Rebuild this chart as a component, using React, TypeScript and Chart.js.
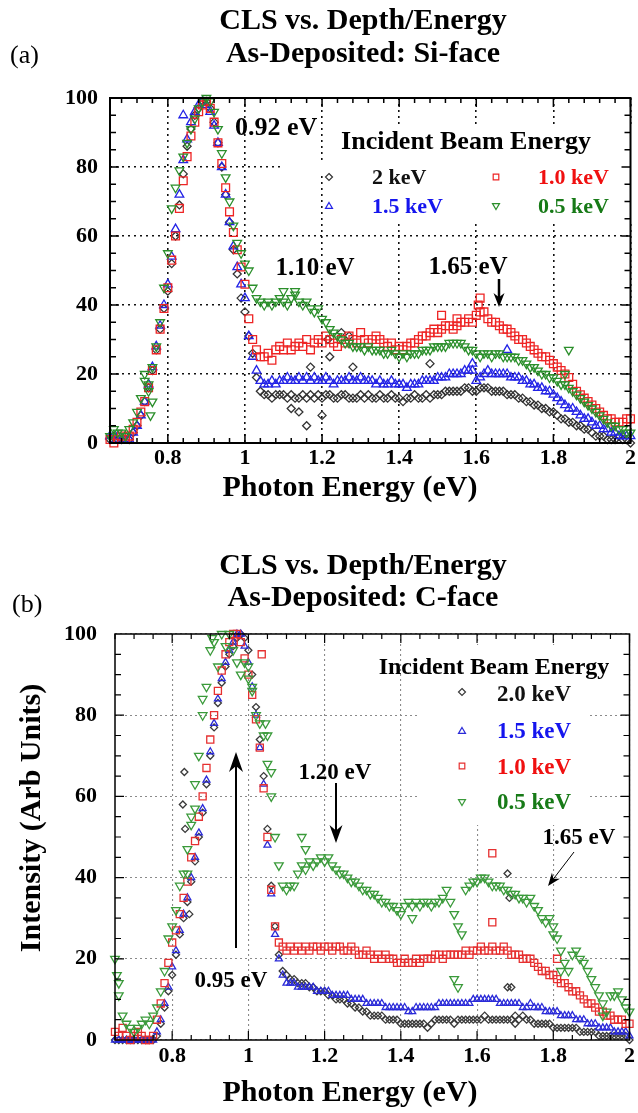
import React, { useEffect, useRef } from 'react';
import { Chart, registerables } from 'chart.js';
Chart.register(...registerables);

// ---------------- DATA ----------------
const ENERGY = [
  0.65, 0.66, 0.67, 0.68, 0.69, 0.70, 0.71, 0.72, 0.73, 0.74,
  0.75, 0.76, 0.77, 0.78, 0.79, 0.80, 0.81, 0.82, 0.83, 0.84,
  0.85, 0.86, 0.87, 0.88, 0.89, 0.90, 0.91, 0.92, 0.93, 0.94,
  0.95, 0.96, 0.97, 0.98, 0.99, 1.00, 1.01, 1.02, 1.03, 1.04,
  1.05, 1.06, 1.07, 1.08, 1.09, 1.10, 1.11, 1.12, 1.13, 1.14,
  1.15, 1.16, 1.17, 1.18, 1.19, 1.20, 1.21, 1.22, 1.23, 1.24,
  1.25, 1.26, 1.27, 1.28, 1.29, 1.30, 1.31, 1.32, 1.33, 1.34,
  1.35, 1.36, 1.37, 1.38, 1.39, 1.40, 1.41, 1.42, 1.43, 1.44,
  1.45, 1.46, 1.47, 1.48, 1.49, 1.50, 1.51, 1.52, 1.53, 1.54,
  1.55, 1.56, 1.57, 1.58, 1.59, 1.60, 1.61, 1.62, 1.63, 1.64,
  1.65, 1.66, 1.67, 1.68, 1.69, 1.70, 1.71, 1.72, 1.73, 1.74,
  1.75, 1.76, 1.77, 1.78, 1.79, 1.80, 1.81, 1.82, 1.83, 1.84,
  1.85, 1.86, 1.87, 1.88, 1.89, 1.90, 1.91, 1.92, 1.93, 1.94,
  1.95, 1.96, 1.97, 1.98, 1.99, 2.00,
];

// Panel (a) Si-face
const A_2KEV = [
  1, 2, 1, 1, 2, 1, 3, 5, 8, 12,
  16, 21, 27, 33, 39, 44, 52, 60, 69, 78,
  86, 91, 95, 97, 99, 99, 97, 93, 87, 80,
  72, 64, 56, 49, 42, 38, 31, 26, 19, 15,
  14, 14, 13, 14, 14, 14, 13, 14, 13, 13,
  14, 13, 14, 13, 14, 13, 14, 14, 13, 13,
  14, 14, 13, 13, 13, 14, 13, 14, 13, 13,
  14, 13, 13, 14, 13, 13, 12, 13, 13, 14,
  13, 13, 14, 13, 14, 14, 14, 15, 15, 15,
  15, 15, 16, 16, 15, 15, 16, 16, 16, 15,
  15, 15, 15, 14, 14, 14, 13, 13, 12, 12,
  11, 11, 10, 10, 9, 9, 8, 7, 7, 6,
  6, 5, 5, 4, 4, 3, 2, 2, 2, 1,
  1, 1, 2, 1, 1, 0,
];
const A_2KEV_EXTRA_X = [1.12, 1.14, 1.16, 1.17, 1.20, 1.215, 1.22, 1.25, 1.27, 1.28, 1.48];
const A_2KEV_EXTRA_Y = [10, 9, 5, 22, 8, 30, 25, 32, 31, 22, 23];

const A_15KEV = [
  2, 1, 2, 1, 1, 1, 3, 5, 8, 12,
  17, 22, 28, 34, 40, 46, 54, 62, 72, 82,
  88, 93, 96, 98, 99, 98, 96, 92, 87, 80,
  72, 64, 57, 51, 46, 42, 31, 25, 21, 18,
  17, 17, 18, 17, 18, 18, 19, 18, 18, 19,
  18, 19, 18, 19, 18, 18, 19, 18, 17, 18,
  18, 18, 19, 18, 18, 19, 18, 18, 18, 17,
  18, 17, 17, 18, 17, 17, 17, 16, 17, 17,
  17, 18, 18, 18, 18, 19, 19, 19, 20, 20,
  20, 20, 21, 21, 21, 18, 19, 20, 21, 20,
  20, 20, 20, 20, 19, 19, 19, 18, 18, 17,
  17, 16, 16, 15, 15, 14, 13, 12, 11, 10,
  10, 9, 8, 7, 7, 6, 5, 5, 4, 4,
  3, 3, 2, 2, 2, 2,
];
const A_15KEV_EXTRA_X = [0.84, 1.59, 1.68];
const A_15KEV_EXTRA_Y = [95, 23, 27];

const A_10KEV = [
  1, 0, 1, 2, 1, 2, 4, 6, 9, 12,
  16, 21, 27, 33, 39, 45, 53, 60, 68, 76,
  83, 89, 93, 96, 98, 99, 97, 93, 87, 81,
  74, 67, 61, 56, 51, 46, 36, 30, 27, 25,
  25, 26, 24, 27, 28, 27, 29, 27, 28, 29,
  28, 30, 27, 29, 30, 29, 31, 30, 29, 28,
  30, 29, 31, 30, 29, 32, 30, 29, 30, 31,
  30, 29, 28, 29, 27, 28, 27, 28, 29, 29,
  30, 31, 31, 32, 33, 32, 33, 34, 34, 33,
  34, 35, 35, 36, 35, 37, 38, 38, 36, 35,
  35, 34, 33, 33, 32, 31, 30, 30, 29, 28,
  27, 26, 25, 25, 24, 23, 22, 21, 20, 19,
  17, 15, 14, 13, 12, 11, 10, 9, 8, 7,
  7, 6, 6, 6, 7, 7,
];
const A_10KEV_EXTRA_X = [1.51, 1.55, 1.605, 1.61];
const A_10KEV_EXTRA_Y = [37, 36, 40, 42];

const A_05KEV = [
  2, 4, 3, 3, 2, 4, 6, 9, 13, 18,
  17, 22, 28, 35, 45, 55, 68, 74, 79, 83,
  87, 91, 94, 97, 99, 100, 99, 96, 91, 84,
  77, 70, 63, 58, 55, 52, 50, 45, 42, 41,
  40, 41, 40, 41, 42, 41, 40, 42, 43, 41,
  40, 41, 39, 38, 39, 36, 35, 33, 32, 31,
  30, 29, 29, 28, 28, 28, 27, 28, 27, 27,
  27, 26, 26, 27, 26, 25, 26, 25, 26, 26,
  26, 27, 27, 27, 28, 28, 28, 28, 29, 29,
  29, 29, 28, 27, 27, 26, 25, 26, 26, 25,
  26, 26, 25, 25, 25, 25, 24, 24, 23, 22,
  22, 21, 20, 20, 19, 19, 18, 17, 17, 16,
  15, 14, 13, 12, 11, 10, 9, 8, 7, 6,
  5, 5, 4, 4, 3, 3,
];
const A_05KEV_EXTRA_X = [0.74, 0.75, 0.755, 0.76, 1.10, 1.13, 1.83, 1.84];
const A_05KEV_EXTRA_Y = [20, 15, 8, 12, 44, 44, 20, 27];

// Panel (b) C-face
const B_20KEV = [
  0, 0, 0, 0, 0, 0, 0, 0, 0, 0,
  0, 1, 4, 8, 12, 16, 21, 26, 30, 34,
  39, 44, 50, 56, 63, 70, 77, 83, 88, 92,
  95, 97, 99, 100, 99, 96, 90, 82, 74, 65,
  52, 38, 28, 21, 17, 16, 15, 15, 14, 14,
  14, 13, 13, 12, 12, 12, 11, 11, 10, 10,
  10, 9, 9, 8, 8, 7, 7, 6, 6, 6,
  6, 5, 5, 5, 5, 4, 4, 4, 4, 4,
  4, 4, 3, 4, 5, 5, 5, 5, 5, 4,
  5, 5, 5, 5, 5, 5, 5, 6, 5, 5,
  5, 5, 5, 5, 5, 4, 5, 6, 5, 5,
  4, 4, 4, 4, 4, 3, 3, 3, 3, 3,
  3, 3, 2, 2, 2, 2, 2, 1, 1, 1,
  1, 1, 1, 1, 1, 0,
];
const B_20KEV_EXTRA_X = [0.828, 0.832, 0.834, 0.845, 1.68, 1.685, 1.68, 1.69, 1.70];
const B_20KEV_EXTRA_Y = [58, 66, 52, 31, 41, 35, 13, 13, 6];

const B_15KEV = [
  0, 0, 0, 0, 0, 0, 0, 0, 0, 0,
  0, 2, 5, 9, 13, 18, 22, 27, 31, 35,
  40, 45, 51, 57, 64, 71, 78, 84, 89, 93,
  96, 98, 100, 100, 97, 93, 87, 80, 72, 63,
  48, 36, 26, 20, 16, 14, 14, 14, 13, 13,
  13, 13, 13, 12, 12, 12, 12, 11, 11, 11,
  11, 11, 10, 10, 10, 10, 9, 9, 9, 9,
  9, 8, 8, 8, 8, 8, 8, 7, 7, 8,
  8, 8, 8, 8, 8, 9, 9, 9, 9, 9,
  9, 9, 9, 9, 10, 10, 10, 10, 10, 10,
  10, 9, 9, 9, 9, 9, 9, 8, 8, 9,
  8, 8, 8, 7, 7, 7, 7, 6, 6, 6,
  6, 5, 5, 5, 4, 4, 4, 3, 3, 3,
  3, 2, 2, 2, 2, 1,
];

const B_10KEV = [
  2, 1, 3, 1, 0, 1, 2, 1, 0, 0,
  1, 5, 9, 14, 19, 24, 27, 31, 35, 39,
  45, 49, 55, 60, 67, 74, 80, 86, 91, 95,
  98, 100, 100, 98, 94, 90, 85, 79, 72, 62,
  50, 37, 28, 24, 23, 22, 23, 22, 23, 22,
  23, 22, 23, 23, 22, 23, 23, 22, 23, 23,
  22, 22, 23, 22, 21, 21, 22, 21, 20, 21,
  20, 21, 20, 20, 19, 19, 20, 19, 19, 20,
  19, 20, 20, 20, 21, 21, 20, 21, 21, 21,
  21, 21, 22, 21, 22, 22, 23, 22, 22, 23,
  22, 22, 23, 22, 21, 21, 21, 20, 20, 20,
  19, 18, 17, 17, 16, 16, 15, 14, 14, 13,
  12, 12, 11, 10, 9, 9, 8, 7, 7, 6,
  6, 5, 5, 5, 4, 4,
];
const B_10KEV_EXTRA_X = [1.035, 1.64, 1.64, 1.81];
const B_10KEV_EXTRA_Y = [95, 46, 29, 20];

const B_05KEV = [
  20, 11, 6, 4, 3, 2, 3, 4, 5, 4,
  6, 8, 12, 17, 25, 28, 32, 38, 41, 47,
  55, 63, 70, 80, 87, 96, 98, 92, 100, 97,
  100, 96, 93, 90, 93, 89, 86, 80, 78, 75,
  68, 60, 50, 43, 38, 37, 38, 38, 41, 43,
  42, 44, 43, 44, 45, 44, 45, 43, 42, 41,
  41, 40, 39, 39, 38, 37, 37, 36, 36, 35,
  34, 34, 33, 33, 32, 31, 33, 34, 33, 34,
  33, 34, 34, 33, 34, 34, 35, 37, 34, 31,
  28, 26, 37, 38, 39, 39, 40, 40, 39, 38,
  38, 38, 37, 37, 36, 36, 35, 35, 34, 35,
  33, 32, 30, 29, 30, 28, 25, 22, 19, 17,
  21, 22, 20, 19, 17, 15, 13, 11, 9, 7,
  11, 11, 12, 10, 8, 7,
];
const B_05KEV_EXTRA_X = [0.655, 0.66, 0.84, 0.85, 0.86, 0.88, 0.905, 1.0, 1.01, 1.045, 1.05, 1.06, 1.14, 1.15, 1.43, 1.54, 1.55, 1.80, 1.82, 1.93];
const B_05KEV_EXTRA_Y = [16, 14, 41, 53, 57, 84, 99, 92, 87, 78, 75, 66, 50, 47, 30, 15, 13, 26, 17, 6];

const X_TICKS = [0.8, 1.0, 1.2, 1.4, 1.6, 1.8, 2.0];
const X_TICK_LABELS = ['0.8', '1', '1.2', '1.4', '1.6', '1.8', '2'];
const Y_TICKS = [0, 20, 40, 60, 80, 100];
const Y_TICK_LABELS = ['0', '20', '40', '60', '80', '100'];

const LEGEND_TITLE = 'Incident Beam Energy';
const LEGEND_A = ['2 keV', '1.5 keV', '1.0 keV', '0.5 keV'];
const LEGEND_B = ['2.0 keV', '1.5 keV', '1.0 keV', '0.5 keV'];
const TITLE_1 = 'CLS vs. Depth/Energy';
const TITLE_A = 'As-Deposited: Si-face';
const TITLE_B = 'As-Deposited: C-face';
const X_TITLE = 'Photon Energy (eV)';
const Y_TITLE = 'Intensity (Arb Units)';

// ---------------- helpers ----------------
const SERIF = "'Liberation Serif', 'Times New Roman', serif";

function toPoints(ys: number[], exX: number[] = [], exY: number[] = []) {
  const pts = ys.map((v, i) => ({ x: ENERGY[i], y: v }));
  exX.forEach((x, i) => pts.push({ x, y: exY[i] }));
  return pts;
}

const COLORS = {
  a: { k: '#333333', b: '#2323e6', r: '#ee2424', g: '#2b8f2b' },
  b: { k: '#3a3a3a', b: '#2a2ad8', r: '#e63030', g: '#3a9a3a' },
};
const TEXT_COLORS = { k: '#111111', b: '#1515ee', r: '#f01010', g: '#177a17' };

function drawMarker(ctx: CanvasRenderingContext2D, kind: string, x: number, y: number, s: number, color: string) {
  ctx.save();
  ctx.strokeStyle = color;
  ctx.lineWidth = 1.2;
  ctx.beginPath();
  if (kind === 'diamond') {
    ctx.moveTo(x, y - s); ctx.lineTo(x + s, y); ctx.lineTo(x, y + s); ctx.lineTo(x - s, y); ctx.closePath();
  } else if (kind === 'square') {
    ctx.rect(x - s * 0.8, y - s * 0.8, s * 1.6, s * 1.6);
  } else if (kind === 'up') {
    ctx.moveTo(x, y - s); ctx.lineTo(x + s, y + s * 0.7); ctx.lineTo(x - s, y + s * 0.7); ctx.closePath();
  } else {
    ctx.moveTo(x, y + s); ctx.lineTo(x + s, y - s * 0.7); ctx.lineTo(x - s, y - s * 0.7); ctx.closePath();
  }
  ctx.stroke();
  ctx.restore();
}

function drawArrow(ctx: CanvasRenderingContext2D, x1: number, y1: number, x2: number, y2: number, w: number, hl: number, hw: number) {
  const ang = Math.atan2(y2 - y1, x2 - x1);
  const bx = x2 - Math.cos(ang) * hl;
  const by = y2 - Math.sin(ang) * hl;
  const nx = -Math.sin(ang), ny = Math.cos(ang);
  ctx.save();
  ctx.strokeStyle = '#000';
  ctx.fillStyle = '#000';
  ctx.lineWidth = w;
  ctx.beginPath();
  ctx.moveTo(x1, y1);
  ctx.lineTo(x2 - Math.cos(ang) * hl * 0.6, y2 - Math.sin(ang) * hl * 0.6);
  ctx.stroke();
  ctx.beginPath();
  ctx.moveTo(x2, y2);
  ctx.lineTo(bx + nx * hw / 2, by + ny * hw / 2);
  ctx.lineTo(x2 - Math.cos(ang) * hl * 0.7, y2 - Math.sin(ang) * hl * 0.7);
  ctx.lineTo(bx - nx * hw / 2, by - ny * hw / 2);
  ctx.closePath();
  ctx.fill();
  ctx.restore();
}

type TextItem = { t: string; x: number; y: number; size: number; bold?: boolean; align?: CanvasTextAlign; color?: string; rot?: number };

type PanelCfg = {
  top: number;
  height: number;
  area: { left: number; top: number; right: number; bottom: number };
  yPad: number;
  xPad: number;
  gridColor: string;
  gridWidth: number;
  gridDash: number[];
  frameWidth: number;
  tickWidth: number;
  xMinorStart: number;
  xMinorStep: number;
  boxes: number[][];
  texts: TextItem[];
  arrows: number[][];
  legend: { marker: string; color: string; mx: number; my: number; text: string; tx: number; ty: number; tcolor: string; size: number; ms: number }[];
  datasets: any[];
};

function makeDecor(cfg: PanelCfg) {
  return {
    id: 'decor',
    beforeDatasetsDraw(chart: any) {
      const ctx = chart.ctx;
      ctx.save();
      ctx.fillStyle = '#ffffff';
      for (const b of cfg.boxes) ctx.fillRect(b[0], b[1] - cfg.top, b[2], b[3]);
      ctx.restore();
    },
    afterDraw(chart: any) {
      const ctx: CanvasRenderingContext2D = chart.ctx;
      const ca = chart.chartArea;
      const xs = chart.scales.x;
      const ys = chart.scales.y;
      ctx.save();
      // ticks
      ctx.strokeStyle = '#000';
      ctx.lineWidth = cfg.tickWidth;
      ctx.beginPath();
      for (let i = 0; i < 100; i++) {
        const v = cfg.xMinorStart + i * cfg.xMinorStep;
        if (v > 2.0 + 1e-6) break;
        const major = X_TICKS.some((t) => Math.abs(t - v) < 1e-6);
        const len = major ? 9 : 5;
        const px = xs.getPixelForValue(v);
        ctx.moveTo(px, ca.bottom); ctx.lineTo(px, ca.bottom - len);
        ctx.moveTo(px, ca.top); ctx.lineTo(px, ca.top + len);
      }
      for (let v = 5; v < 100; v += 5) {
        const major = v % 20 === 0;
        const len = major ? 9 : 6;
        const py = ys.getPixelForValue(v);
        ctx.moveTo(ca.left, py); ctx.lineTo(ca.left + len, py);
        ctx.moveTo(ca.right, py); ctx.lineTo(ca.right - len, py);
      }
      ctx.stroke();
      // frame
      ctx.lineWidth = cfg.frameWidth;
      ctx.strokeRect(ca.left, ca.top, ca.right - ca.left, ca.bottom - ca.top);
      // texts
      for (const t of cfg.texts) {
        ctx.save();
        ctx.font = `${t.bold === false ? 'normal' : 'bold'} ${t.size}px ${SERIF}`;
        ctx.fillStyle = t.color || '#000';
        ctx.textAlign = t.align || 'center';
        ctx.textBaseline = 'middle';
        ctx.translate(t.x, t.y - cfg.top);
        if (t.rot) ctx.rotate(t.rot);
        ctx.fillText(t.t, 0, 0);
        ctx.restore();
      }
      // arrows
      for (const a of cfg.arrows) {
        drawArrow(ctx, a[0], a[1] - cfg.top, a[2], a[3] - cfg.top, a[4], a[5], a[6]);
      }
      // legend
      for (const l of cfg.legend) {
        drawMarker(ctx, l.marker, l.mx, l.my - cfg.top, l.ms, l.color);
        ctx.save();
        ctx.font = `bold ${l.size}px ${SERIF}`;
        ctx.fillStyle = l.tcolor;
        ctx.textAlign = 'left';
        ctx.textBaseline = 'middle';
        ctx.fillText(l.text, l.tx, l.ty - cfg.top);
        ctx.restore();
      }
      ctx.restore();
    },
  };
}

function series(label: string, data: any[], color: string, style: string, radius: number, rotation: number, order: number) {
  return {
    label,
    data,
    showLine: false,
    pointStyle: style,
    pointRadius: radius,
    pointRotation: rotation,
    pointBorderWidth: 1.3,
    pointBorderColor: color,
    pointBackgroundColor: 'rgba(0,0,0,0)',
    borderColor: color,
    backgroundColor: 'rgba(0,0,0,0)',
    order,
    clip: false,
  };
}

const CA = COLORS.a;
const CB = COLORS.b;

const PANEL_A: PanelCfg = {
  top: 0,
  height: 530,
  area: { left: 110, top: 98, right: 636, bottom: 443 },
  yPad: 12,
  xPad: 2,
  gridColor: '#111111',
  gridWidth: 1.6,
  gridDash: [2, 4],
  frameWidth: 2,
  tickWidth: 1.5,
  xMinorStart: 0.68,
  xMinorStep: 0.04,
  boxes: [[328, 126, 307, 98], [282, 161, 46, 11]],
  texts: [
    { t: TITLE_1, x: 363, y: 21, size: 30 },
    { t: TITLE_A, x: 363, y: 54, size: 30 },
    { t: '(a)', x: 10, y: 56, size: 26, bold: false, align: 'left' },
    { t: X_TITLE, x: 350, y: 488, size: 30 },
    { t: '0.92 eV', x: 235, y: 128, size: 26, align: 'left' },
    { t: '1.10 eV', x: 315, y: 269, size: 25 },
    { t: '1.65 eV', x: 468, y: 268, size: 25 },
    { t: LEGEND_TITLE, x: 466, y: 142, size: 26 },
  ],
  arrows: [[499, 279, 499, 307, 2.5, 14, 11]],
  legend: [
    { marker: 'diamond', color: CA.k, mx: 329, my: 177, text: LEGEND_A[0], tx: 372, ty: 178, tcolor: TEXT_COLORS.k, size: 22, ms: 3.5 },
    { marker: 'up', color: CA.b, mx: 329, my: 206, text: LEGEND_A[1], tx: 372, ty: 207, tcolor: TEXT_COLORS.b, size: 22, ms: 3.5 },
    { marker: 'square', color: CA.r, mx: 496, my: 177, text: LEGEND_A[2], tx: 538, ty: 178, tcolor: TEXT_COLORS.r, size: 22, ms: 3.5 },
    { marker: 'down', color: CA.g, mx: 496, my: 206, text: LEGEND_A[3], tx: 538, ty: 207, tcolor: TEXT_COLORS.g, size: 22, ms: 3.5 },
  ],
  datasets: [
    series(LEGEND_A[3], toPoints(A_05KEV, A_05KEV_EXTRA_X, A_05KEV_EXTRA_Y), CA.g, 'triangle', 5, 180, 0),
    series(LEGEND_A[2], toPoints(A_10KEV, A_10KEV_EXTRA_X, A_10KEV_EXTRA_Y), CA.r, 'rect', 5.5, 0, 1),
    series(LEGEND_A[1], toPoints(A_15KEV, A_15KEV_EXTRA_X, A_15KEV_EXTRA_Y), CA.b, 'triangle', 5, 0, 2),
    series(LEGEND_A[0], toPoints(A_2KEV, A_2KEV_EXTRA_X, A_2KEV_EXTRA_Y), CA.k, 'rectRot', 4, 0, 3),
  ],
};

const PANEL_B: PanelCfg = {
  top: 530,
  height: 583,
  area: { left: 115, top: 634, right: 636, bottom: 1040 },
  yPad: 18,
  xPad: 3,
  gridColor: '#8a8a8a',
  gridWidth: 1.1,
  gridDash: [2, 3],
  frameWidth: 1.5,
  tickWidth: 1.2,
  xMinorStart: 0.65,
  xMinorStep: 0.05,
  boxes: [[418, 645, 170, 180]],
  texts: [
    { t: TITLE_1, x: 363, y: 566, size: 30 },
    { t: TITLE_B, x: 363, y: 598, size: 30 },
    { t: '(b)', x: 12, y: 605, size: 26, bold: false, align: 'left' },
    { t: X_TITLE, x: 350, y: 1093, size: 30 },
    { t: Y_TITLE, x: 32, y: 818, size: 30, rot: -Math.PI / 2 },
    { t: '1.20 eV', x: 335, y: 773, size: 23 },
    { t: '0.95 eV', x: 231, y: 981, size: 23 },
    { t: '1.65 eV', x: 579, y: 838, size: 23 },
    { t: LEGEND_TITLE, x: 494, y: 668, size: 24 },
  ],
  arrows: [
    [336, 783, 336, 843, 2, 18, 13],
    [236, 948, 236, 752, 2, 20, 14],
    [574, 852, 548, 886, 1, 13, 10],
  ],
  legend: [
    { marker: 'diamond', color: CB.k, mx: 462, my: 692, text: LEGEND_B[0], tx: 497, ty: 695, tcolor: TEXT_COLORS.k, size: 23, ms: 3.5 },
    { marker: 'up', color: CB.b, mx: 462, my: 731, text: LEGEND_B[1], tx: 497, ty: 732, tcolor: TEXT_COLORS.b, size: 23, ms: 3.5 },
    { marker: 'square', color: CB.r, mx: 462, my: 766, text: LEGEND_B[2], tx: 497, ty: 768, tcolor: TEXT_COLORS.r, size: 23, ms: 3.5 },
    { marker: 'down', color: CB.g, mx: 462, my: 802, text: LEGEND_B[3], tx: 497, ty: 803, tcolor: TEXT_COLORS.g, size: 23, ms: 3.5 },
  ],
  datasets: [
    series(LEGEND_B[3], toPoints(B_05KEV, B_05KEV_EXTRA_X, B_05KEV_EXTRA_Y), CB.g, 'triangle', 5, 180, 0),
    series(LEGEND_B[2], toPoints(B_10KEV, B_10KEV_EXTRA_X, B_10KEV_EXTRA_Y), CB.r, 'rect', 5, 0, 1),
    series(LEGEND_B[1], toPoints(B_15KEV), CB.b, 'triangle', 4, 0, 2),
    series(LEGEND_B[0], toPoints(B_20KEV, B_20KEV_EXTRA_X, B_20KEV_EXTRA_Y), CB.k, 'rectRot', 3.5, 0, 3),
  ],
};

function Panel({ cfg }: { cfg: PanelCfg }) {
  const ref = useRef<HTMLCanvasElement | null>(null);
  useEffect(() => {
    const canvas = ref.current;
    if (!canvas) return;
    const a = cfg.area;
    const xAxisH = 30;
    const tickFont = { family: SERIF, size: 22, weight: 'bold' as const };
    const chart = new Chart(canvas, {
      type: 'scatter',
      data: { datasets: cfg.datasets },
      plugins: [makeDecor(cfg)],
      options: {
        animation: false,
        responsive: false,
        devicePixelRatio: 1,
        layout: {
          autoPadding: false,
          padding: {
            left: 0,
            top: a.top - cfg.top,
            right: 638 - a.right,
            bottom: cfg.height - (a.bottom - cfg.top) - xAxisH,
          },
        },
        plugins: { legend: { display: false }, tooltip: { enabled: false }, title: { display: false } },
        scales: {
          x: {
            type: 'linear',
            min: 0.65,
            max: 2.0,
            afterBuildTicks: (s: any) => { s.ticks = X_TICKS.map((v) => ({ value: v })); },
            afterFit: (s: any) => { s.height = xAxisH; },
            grid: { color: cfg.gridColor, lineWidth: cfg.gridWidth, drawTicks: false },
            border: { display: false, dash: cfg.gridDash },
            ticks: {
              autoSkip: false,
              maxRotation: 0,
              padding: cfg.xPad,
              color: '#000',
              font: tickFont,
              callback: (_v: any, i: number) => X_TICK_LABELS[i],
            },
          },
          y: {
            type: 'linear',
            min: 0,
            max: 100,
            afterBuildTicks: (s: any) => { s.ticks = Y_TICKS.map((v) => ({ value: v })); },
            afterFit: (s: any) => { s.width = a.left; },
            grid: { color: cfg.gridColor, lineWidth: cfg.gridWidth, drawTicks: false },
            border: { display: false, dash: cfg.gridDash },
            ticks: {
              autoSkip: false,
              padding: cfg.yPad,
              color: '#000',
              font: tickFont,
              callback: (_v: any, i: number) => Y_TICK_LABELS[i],
            },
          },
        },
      } as any,
    });
    return () => chart.destroy();
  }, [cfg]);
  return (
    <canvas
      ref={ref}
      width={638}
      height={cfg.height}
      style={{ position: 'absolute', left: 0, top: cfg.top, width: 638, height: cfg.height, display: 'block' }}
    />
  );
}

export default function App() {
  return (
    <div style={{ position: 'absolute', left: 0, top: 0, width: 638, height: 1113, background: '#ffffff', overflow: 'hidden' }}>
      <Panel cfg={PANEL_A} />
      <Panel cfg={PANEL_B} />
    </div>
  );
}
